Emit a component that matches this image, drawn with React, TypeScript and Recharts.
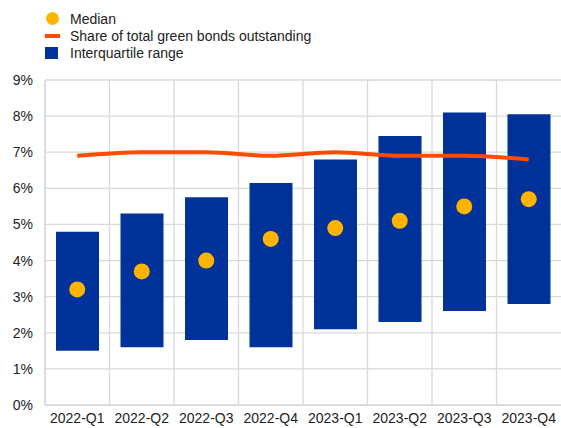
import {
  Bar,
  CartesianGrid,
  ComposedChart,
  Line,
  XAxis,
  YAxis,
} from "recharts";

const quarters = [
  "2022-Q1",
  "2022-Q2",
  "2022-Q3",
  "2022-Q4",
  "2023-Q1",
  "2023-Q2",
  "2023-Q3",
  "2023-Q4",
];
const iqrLow = [1.5, 1.6, 1.8, 1.6, 2.1, 2.3, 2.6, 2.8];
const iqrHigh = [4.8, 5.3, 5.75, 6.15, 6.8, 7.45, 8.1, 8.05];
const median = [3.2, 3.7, 4.0, 4.6, 4.9, 5.1, 5.5, 5.7];
const share = [6.9, 7.0, 7.0, 6.9, 7.0, 6.9, 6.9, 6.8];
const yTicks = [0, 1, 2, 3, 4, 5, 6, 7, 8, 9];

const data = quarters.map((q, i) => ({
  quarter: q,
  range: [iqrLow[i], iqrHigh[i]],
  median: median[i],
  share: share[i],
}));

const BLUE = "#003299";
const ORANGE = "#FF4B00";
const YELLOW = "#FFB400";
const GRID = "#d9d9d9";
const FONT = "'Liberation Sans', Arial, sans-serif";

function LegendBox() {
  const row = { display: "flex", alignItems: "center", height: 17 };
  const text = { fontSize: 14, color: "#222", marginLeft: 0 };
  return (
    <div style={{ position: "absolute", left: 45, top: 10, fontFamily: FONT }}>
      <div style={row}>
        <div style={{ width: 25 }}>
          <div style={{ width: 13, height: 13, borderRadius: "50%", background: YELLOW, marginLeft: 1 }} />
        </div>
        <span style={text}>Median</span>
      </div>
      <div style={row}>
        <div style={{ width: 25 }}>
          <div style={{ width: 15, height: 4, background: ORANGE }} />
        </div>
        <span style={text}>Share of total green bonds outstanding</span>
      </div>
      <div style={row}>
        <div style={{ width: 25 }}>
          <div style={{ width: 13, height: 12, background: BLUE }} />
        </div>
        <span style={text}>Interquartile range</span>
      </div>
    </div>
  );
}

export default function App() {
  return (
    <div style={{ position: "absolute", left: 0, top: 0, width: 561, height: 428 }}>
      <ComposedChart
        width={561}
        height={428}
        data={data}
        margin={{ top: 80, right: 0, bottom: 0, left: 0 }}
        style={{ fontFamily: FONT }}
      >
        <CartesianGrid
          stroke={GRID}
          strokeWidth={1.3}
          verticalCoordinatesGenerator={({ offset }: any) =>
            quarters.map((_, i) => offset.left + (offset.width / quarters.length) * i)
          }
        />
        <XAxis
          dataKey="quarter"
          tickLine={false}
          axisLine={{ stroke: GRID, strokeWidth: 1.3 }}
          tick={{ fill: "#222", fontSize: 14 }}
          height={23}
          tickMargin={2}
          interval={0}
        />
        <YAxis
          domain={[0, 9]}
          ticks={yTicks}
          tickFormatter={(v: number) => `${v}%`}
          tickLine={false}
          axisLine={{ stroke: GRID, strokeWidth: 1.3 }}
          tick={{ fill: "#222", fontSize: 14 }}
          width={45}
          tickMargin={6}
        />
        <Bar dataKey="range" fill={BLUE} barSize={43} isAnimationActive={false} />
        <Line
          dataKey="share"
          type="monotone"
          stroke={ORANGE}
          strokeWidth={4}
          dot={false}
          isAnimationActive={false}
        />
        <Line
          dataKey="median"
          stroke="none"
          dot={{ r: 8, fill: YELLOW, stroke: "none" }}
          activeDot={false}
          isAnimationActive={false}
        />
      </ComposedChart>
      <LegendBox />
    </div>
  );
}
